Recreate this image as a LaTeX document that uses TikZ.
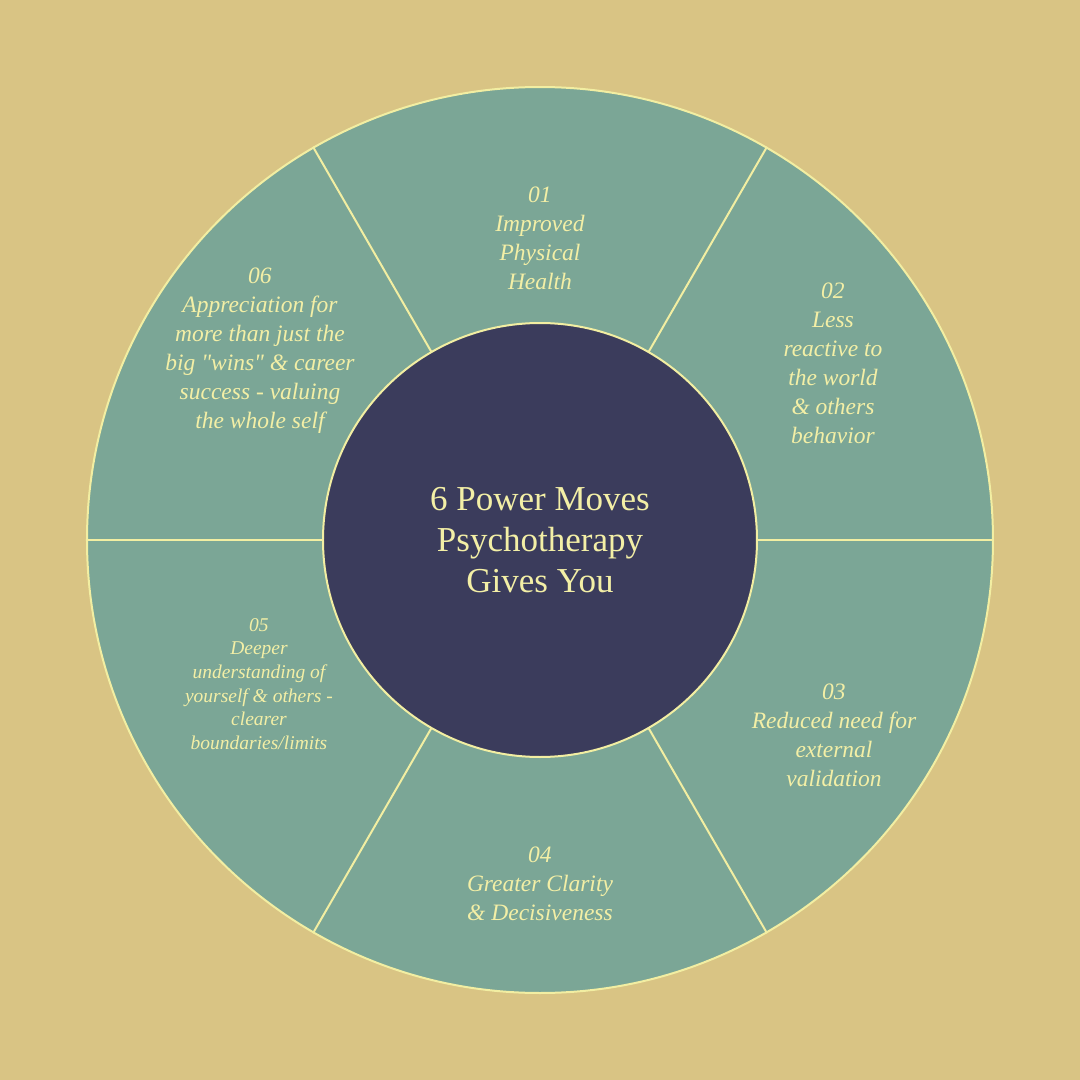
\documentclass[tikz,border=0pt]{standalone}
\usepackage{fontspec}
\setmainfont{Liberation Serif}[Ligatures=TeXOff]
\definecolor{bgtan}{HTML}{D9C484}
\definecolor{segg}{HTML}{7BA696}
\definecolor{linec}{HTML}{F2EEA2}
\definecolor{darkc}{HTML}{3B3C5C}
\definecolor{txtc}{HTML}{F3EFA6}
\begin{document}
\begin{tikzpicture}[x=1pt,y=1pt,
  ring/.style={circle, draw=linec, line width=2pt, inner sep=0pt},
  divider/.style={draw=linec, line width=2pt},
  seglabel/.style={text=txtc, align=center, font=\itshape\fontsize{23.5}{29}\selectfont},
  smalllabel/.style={text=txtc, align=center, font=\itshape\fontsize{19.5}{23.6}\selectfont},
  title/.style={text=txtc, align=center, font=\fontsize{35}{41}\selectfont}]
\fill[bgtan] (-540,-540) rectangle (540,540);
\useasboundingbox (-540,-540) rectangle (540,540);
\node[ring, fill=segg, minimum size=906pt] (outer) at (0,0) {};
\foreach \a in {0,60,120,180,240,300}
  \draw[divider] (outer.center) -- (outer.\a);
\node[ring, fill=darkc, minimum size=434pt] (inner) at (0,0) {};
\node[title] (t) at (0,0) {6 Power Moves\\Psychotherapy\\Gives You};
\node[seglabel] (s1) at (0,302) {01\\Improved\\Physical\\Health};
\node[seglabel] (s2) at (293,177) {02\\Less\\reactive to\\the world\\\& others\\behavior};
\node[seglabel] (s3) at (294,-195) {03\\Reduced need for\\external\\validation};
\node[seglabel] (s4) at (0,-344) {04\\Greater Clarity\\\& Decisiveness};
\node[smalllabel] (s5) at (-281,-144) {05\\Deeper\\understanding of\\yourself \& others -\\clearer\\boundaries/limits};
\node[seglabel] (s6) at (-280,189) {06\\Appreciation for\\more than just the\\big "wins" \& career\\success - valuing\\the whole self};
\end{tikzpicture}
\end{document}
